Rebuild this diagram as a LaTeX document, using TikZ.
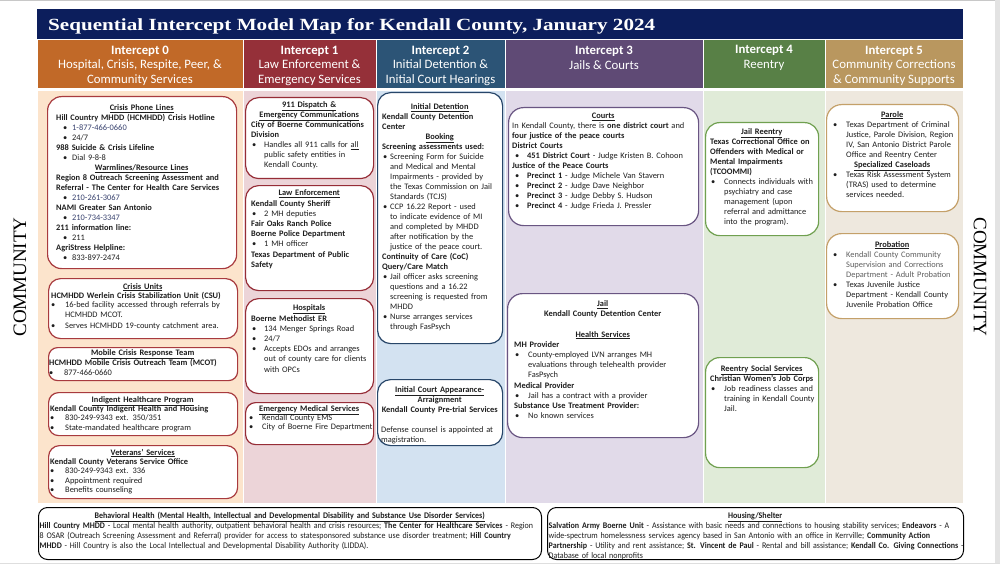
\documentclass[tikz,border=0pt]{standalone}
\usepackage{fontspec}
\usepackage{graphicx}
\setmainfont{Carlito}
\newfontfamily\titlefont{Liberation Serif}
\newfontfamily\comfont{Liberation Serif}
\newfontfamily\condfont[FakeStretch=0.93]{Carlito}
\setlength\parindent{0pt}
\setlength\parskip{0pt}
\newlength\bind
\newlength\bpos
\newcommand\setb[3]{\setlength\leftskip{#1}\setlength\bpos{#2}\setlength\bind{#3}}
\newcommand\hd[1]{\par{\centering\bfseries\underline{#1}\par}}
\newcommand\hc[1]{\par{\centering\bfseries #1\par}}
\newcommand\bd[1]{\par{\bfseries #1\par}}
\newcommand\bl[1]{\par{\hangindent=\bind\hangafter=1\noindent\makebox[\bind][l]{\hspace{\bpos}\textbullet}#1\par}}
\newcommand\blank{\par\mbox{}\par}
\definecolor{navy}{RGB}{12,30,92}
\definecolor{h0}{RGB}{193,105,40}
\definecolor{h1}{RGB}{149,48,57}
\definecolor{h2}{RGB}{44,84,118}
\definecolor{h3}{RGB}{95,74,117}
\definecolor{h4}{RGB}{88,128,70}
\definecolor{h5}{RGB}{185,151,95}
\definecolor{b0}{RGB}{252,228,204}
\definecolor{b1}{RGB}{236,212,216}
\definecolor{b2}{RGB}{211,226,241}
\definecolor{b3}{RGB}{225,218,233}
\definecolor{b4}{RGB}{224,235,216}
\definecolor{b5}{RGB}{238,232,222}
\definecolor{k0}{RGB}{168,58,62}
\definecolor{k1}{RGB}{150,45,55}
\definecolor{k2}{RGB}{40,70,105}
\definecolor{k3}{RGB}{105,85,130}
\definecolor{k4}{RGB}{112,160,80}
\definecolor{k5}{RGB}{196,160,105}
\definecolor{ink}{RGB}{30,30,30}
\definecolor{phone}{RGB}{55,65,110}
\definecolor{grayt}{RGB}{95,95,95}
\definecolor{edge}{RGB}{200,200,200}
\usetikzlibrary{calc}
\tikzset{
  hdr/.style={anchor=north west, inner sep=0pt, draw=white, line width=0.8pt},
  col/.style={anchor=north west, inner sep=0pt, draw=white, line width=0.8pt},
  box/.style={anchor=north west, inner sep=0pt, fill=white, rounded corners=11pt, line width=1.2pt},
  htx/.style={align=center, text=white, inner sep=0pt, font=\fontsize{12.8}{14.5}\selectfont},
  tx/.style={anchor=north west, inner sep=0pt, align=left, text=ink, font=\fontsize{8.4}{10}\selectfont},
  txs/.style={tx, font=\fontsize{8.4}{9.4}\selectfont},
  btx/.style={anchor=north west, inner sep=0pt, align=left, text=ink, font=\condfont\fontsize{8.6}{10}\selectfont},
  comm/.style={inner sep=0pt, font=\comfont\fontsize{19}{19}\selectfont, text=black}
}
\begin{document}
\begin{tikzpicture}[x=1pt,y=-1pt]
\useasboundingbox (0,0) rectangle (1000,564);
\fill[white] (0,0) rectangle (1000,564);
\fill[edge] (0,0) rectangle (1000,1.5);
\fill[edge!50] (995,0) rectangle (1000,564);
\fill[edge!60] (0,562.5) rectangle (1000,564);
% title
\node[anchor=north west, inner sep=0pt, fill=navy, minimum width=926pt, minimum height=29.5pt] (title) at (37,9) {};
\node[anchor=base west, inner sep=0pt, text=white] (titletext) at (48,30.5) {\resizebox{607pt}{12pt}{\titlefont\bfseries Sequential Intercept Model Map for Kendall County, January 2024}};
% headers
\node[hdr, fill=h0, minimum width=206pt, minimum height=49pt] (hd0) at (37,39) {};
\node[hdr, fill=h1, minimum width=133pt, minimum height=49pt] (hd1) at (243,39) {};
\node[hdr, fill=h2, minimum width=129pt, minimum height=49pt] (hd2) at (376,39) {};
\node[hdr, fill=h3, minimum width=198pt, minimum height=49pt] (hd3) at (505,39) {};
\node[hdr, fill=h4, minimum width=122pt, minimum height=49pt] (hd4) at (703,39) {};
\node[hdr, fill=h5, minimum width=138pt, minimum height=49pt] (hd5) at (825,39) {};
\node[htx] (ht0) at (140,65.5) {\textbf{Intercept 0}\\Hospital, Crisis, Respite, Peer, \&\\Community Services};
\node[htx] (ht1) at (309.5,65.5) {\textbf{Intercept 1}\\Law Enforcement \&\\Emergency Services};
\node[htx] (ht2) at (440.5,65.5) {\textbf{Intercept 2}\\Initial Detention \&\\Initial Court Hearings};
\node[htx] (ht3) at (604,58) {\textbf{Intercept 3}\\Jails \& Courts};
\node[htx] (ht4) at (764,58) {\textbf{Intercept 4}\\Reentry};
\node[htx] (ht5) at (894,65.5) {\textbf{Intercept 5}\\Community Corrections\\\& Community Supports};
% body columns
\node[col, fill=b0, minimum width=206pt, minimum height=413pt] (c0) at (37,90) {};
\node[col, fill=b1, minimum width=133pt, minimum height=413pt] (c1) at (243,90) {};
\node[col, fill=b2, minimum width=129pt, minimum height=413pt] (c2) at (376,90) {};
\node[col, fill=b3, minimum width=198pt, minimum height=413pt] (c3) at (505,90) {};
\node[col, fill=b4, minimum width=122pt, minimum height=413pt] (c4) at (703,90) {};
\node[col, fill=b5, minimum width=138pt, minimum height=413pt] (c5) at (825,90) {};
% COMMUNITY
\node[comm, rotate=90] (commL) at (20,277) {COMMUNITY};
\node[comm, rotate=-90] (commR) at (980,277) {COMMUNITY};
% ---------- Intercept 0 ----------
\node[box, draw=k0, rounded corners=14pt, minimum width=189pt, minimum height=172pt] (cpl) at (47,96) {};
\node[tx, text width=189pt] (cplt) at (47,100.5) {\setb{9pt}{7pt}{16pt}%
\hd{Crisis Phone Lines}
\bd{Hill Country MHDD (HCMHDD) Crisis Hotline}
\bl{\textcolor{phone}{1-877-466-0660}}
\bl{24/7}
\bd{988 Suicide \& Crisis Lifeline}
\bl{Dial 9-8-8}
\hd{Warmlines/Resource Lines}
\bd{Region 8 Outreach Screening Assessment and\break Referral - The Center for Health Care Services}
\bl{\textcolor{phone}{210-261-3067}}
\bd{NAMI Greater San Antonio}
\bl{\textcolor{phone}{210-734-3347}}
\bd{211 information line:}
\bl{211}
\bd{AgriStress Helpline:}
\bl{833-897-2474}};
\node[box, draw=k0, rounded corners=12pt, minimum width=189pt, minimum height=60pt] (cu) at (48,278) {};
\node[txs, text width=189pt] (cut) at (48,279.5) {\setb{3pt}{0pt}{14pt}%
\hd{Crisis Units}
\bd{HCMHDD Werlein Crisis Stabilization Unit (CSU)}
\bl{16-bed facility accessed through referrals by\break HCMHDD MCOT.}
\par\vspace{1.5pt}
\bl{Serves HCMHDD 19-county catchment area.}};
\node[box, draw=k0, rounded corners=9pt, minimum width=189pt, minimum height=33pt] (mc) at (48,347) {};
\node[txs, text width=189pt] (mct) at (48,345.5) {\setb{1pt}{0pt}{15pt}%
\hd{Mobile Crisis Response Team}
\bd{HCMHDD Mobile Crisis Outreach Team (MCOT)}
\bl{877-466-0660}};
\node[box, draw=k0, rounded corners=10pt, minimum width=189pt, minimum height=43pt] (ih) at (48,392) {};
\node[txs, text width=189pt] (iht) at (48,392.5) {\setb{2pt}{0pt}{15pt}%
\hd{Indigent Healthcare Program}
\bd{Kendall County Indigent Health and Housing}
\bl{830-249-9343 ext. 350/351}
\bl{State-mandated healthcare program}};
\node[box, draw=k0, rounded corners=11pt, minimum width=189pt, minimum height=53pt] (vs) at (48,445) {};
\node[txs, text width=189pt] (vst) at (48,445.5) {\setb{2pt}{0pt}{15pt}%
\hd{Veterans’ Services}
\bd{Kendall County Veterans Service Office}
\bl{830-249-9343 ext. 336}
\bl{Appointment required}
\bl{Benefits counseling}};
% ---------- Intercept 1 ----------
\node[box, draw=k1, rounded corners=13pt, minimum width=128pt, minimum height=81pt] (d911) at (245,97) {};
\node[tx, text width=128pt] (d911t) at (245,97.5) {\setb{6pt}{1pt}{13pt}%
\hd{911 Dispatch \&}
\hd{Emergency Communications}
\bd{City of Boerne Communications\break Division}
\bl{Handles all 911 calls for \underline{all}\break public safety entities in\break Kendall County.}};
\node[box, draw=k1, rounded corners=13pt, minimum width=128pt, minimum height=105pt] (le) at (245,185) {};
\node[tx, text width=128pt, font=\fontsize{8.4}{10.2}\selectfont] (let) at (245,185.5) {\setb{6pt}{1pt}{13pt}%
\hd{Law Enforcement}
\bd{Kendall County Sheriff}
\bl{2 MH deputies}
\bd{Fair Oaks Ranch Police}
\bd{Boerne Police Department}
\bl{1 MH officer}
\bd{Texas Department of Public\break Safety}};
\node[box, draw=k1, rounded corners=13pt, minimum width=128pt, minimum height=95pt] (hos) at (245,298) {};
\node[tx, text width=128pt, font=\fontsize{8.4}{10.2}\selectfont] (host) at (245,300.5) {\setb{6pt}{1pt}{13pt}%
\hd{Hospitals}
\bd{Boerne Methodist ER}
\bl{134 Menger Springs Road}
\bl{24/7}
\bl{Accepts EDOs and arranges\break out of county care for clients\break with OPCs}};
\node[box, draw=k1, rounded corners=10pt, minimum width=128pt, minimum height=42pt] (ems) at (245,402) {};
\node[txs, text width=128pt] (emst) at (245,401.5) {\setb{4pt}{0pt}{13pt}%
\hd{Emergency Medical Services}
\bl{Kendall County EMS}
\bl{City of Boerne Fire Department}};
% ---------- Intercept 2 ----------
\node[box, draw=k2, rounded corners=13pt, minimum width=125pt, minimum height=251pt] (idt) at (377,92) {};
\node[tx, text width=125pt] (idtt) at (377,99.5) {\setb{5pt}{1pt}{8pt}%
\hd{Initial Detention}
\bd{Kendall County Detention\break Center}
\hd{Booking}
\bd{Screening assessments used:}
\bl{Screening Form for Suicide\break and Medical and Mental\break Impairments - provided by\break the Texas Commission on Jail\break Standards (TCJS)}
\bl{CCP 16.22 Report - used\break to indicate evidence of MI\break and completed by MHDD\break after notification by the\break justice of the peace court.}
\bd{Continuity of Care (CoC)\break Query/Care Match}
\bl{Jail officer asks screening\break questions and a 16.22\break screening is requested from\break MHDD}
\bl{Nurse arranges services\break through FasPsych}};
\node[box, draw=k2, rounded corners=13pt, minimum width=125pt, minimum height=66pt] (ica) at (377,379) {};
\node[tx, text width=125pt] (icat) at (377,382.5) {\setb{4pt}{0pt}{10pt}%
\hd{Initial Court Appearance-}
\hc{Arraignment}
\hc{Kendall County Pre-trial Services}
\blank
Defense counsel is appointed at\break magistration.\par};
% ---------- Intercept 3 ----------
\node[box, draw=k3, rounded corners=15pt, minimum width=190pt, minimum height=118pt] (crt) at (508,107) {};
\node[tx, text width=190pt] (crtt) at (508,108.5) {\setb{4pt}{3pt}{15pt}%
\hd{Courts}
In Kendall County, there is \textbf{one district court} and\break \textbf{four justice of the peace courts}\par
\bd{District Courts}
\bl{\textbf{451 District Court} - Judge Kristen B. Cohoon}
\bd{Justice of the Peace Courts}
\bl{\textbf{Precinct 1} - Judge Michele Van Stavern}
\bl{\textbf{Precinct 2} - Judge Dave Neighbor}
\bl{\textbf{Precinct 3} - Judge Debby S. Hudson}
\bl{\textbf{Precinct 4} - Judge Frieda J. Pressler}};
\node[box, draw=k3, rounded corners=15pt, minimum width=191pt, minimum height=144pt] (jail) at (507,293) {};
\node[tx, text width=191pt, font=\fontsize{8.4}{10.2}\selectfont] (jailt) at (507,296) {\setb{7pt}{1pt}{14pt}%
\hd{Jail}
\hc{Kendall County Detention Center}
\blank
\hd{Health Services}
\bd{MH Provider}
\bl{County-employed LVN arranges MH\break evaluations through telehealth provider\break FasPsych}
\bd{Medical Provider}
\bl{Jail has a contract with a provider}
\bd{Substance Use Treatment Provider:}
\bl{No known services}};
% ---------- Intercept 4 ----------
\node[box, draw=k4, rounded corners=14pt, minimum width=113pt, minimum height=113pt] (jr) at (705,122) {};
\node[tx, text width=113pt] (jrt) at (705,124) {\setb{5pt}{1pt}{14pt}%
\hd{Jail Reentry}
\bd{Texas Correctional Office on\break Offenders with Medical or\break Mental Impairments\break (TCOOMMI)}
\bl{Connects individuals with\break psychiatry and case\break management (upon\break referral and admittance\break into the program).}};
\node[box, draw=k4, rounded corners=14pt, minimum width=113pt, minimum height=110pt] (rs) at (705,357) {};
\node[tx, text width=113pt] (rst) at (705,361) {\setb{5pt}{1pt}{14pt}%
\hd{Reentry Social Services}
\hc{Christian Women’s Job Corps}
\bl{Job readiness classes and\break training in Kendall County\break Jail.}};
% ---------- Intercept 5 ----------
\node[box, draw=k5, rounded corners=15pt, minimum width=132pt, minimum height=107pt] (par) at (826,104) {};
\node[tx, text width=132pt] (part) at (826,107) {\setb{6pt}{1pt}{14pt}%
\hd{Parole}
\bl{Texas Department of Criminal\break Justice, Parole Division, Region\break IV, San Antonio District Parole\break Office and Reentry Center}
\hd{Specialized Caseloads}
\bl{Texas Risk Assessment System\break (TRAS) used to determine\break services needed.}};
\node[box, draw=k5, rounded corners=15pt, minimum width=132pt, minimum height=85pt] (prb) at (826,233) {};
\node[tx, text width=132pt] (prbt) at (826,237) {\setb{6pt}{1pt}{14pt}%
\hd{Probation}
\bl{\textcolor{grayt}{Kendall County Community\break Supervision and Corrections\break Department - Adult Probation}}
\bl{Texas Juvenile Justice\break Department - Kendall County\break Juvenile Probation Office}};
% ---------- bottom ----------
\node[box, draw=black, rounded corners=9pt, line width=1pt, minimum width=503pt, minimum height=52pt] (bh) at (38,507) {};
\node[btx, text width=503pt] (bht) at (38,508.5) {\setb{1.5pt}{0pt}{0pt}%
\hd{Behavioral Health (Mental Health, Intellectual and Developmental Disability and Substance Use Disorder Services)}
\textbf{Hill Country MHDD} - Local mental health authority, outpatient behavioral health and crisis resources; \textbf{The Center for Healthcare Services} - Region\break 8 OSAR (Outreach Screening Assessment and Referral) provider for access to statesponsored substance use disorder treatment; \textbf{Hill Country}\break \textbf{MHDD} - Hill Country is also the Local Intellectual and Developmental Disability Authority (LIDDA).\par};
\node[box, draw=black, rounded corners=9pt, line width=1pt, minimum width=416pt, minimum height=52pt] (hs) at (547,507) {};
\node[btx, text width=424pt] (hst) at (543,508.5) {\setb{5.5pt}{0pt}{0pt}%
\hd{Housing/Shelter}
\textbf{Salvation Army Boerne Unit} - Assistance with basic needs and connections to housing stability services; \textbf{Endeavors} - A\break wide-spectrum homelessness services agency based in San Antonio with an office in Kerrville; \textbf{Community Action}\break \textbf{Partnership} - Utility and rent assistance; \textbf{St. Vincent de Paul} - Rental and bill assistance; \textbf{Kendall Co. Giving Connections}~-\break Database of local nonprofits\par};
\end{tikzpicture}
\end{document}
